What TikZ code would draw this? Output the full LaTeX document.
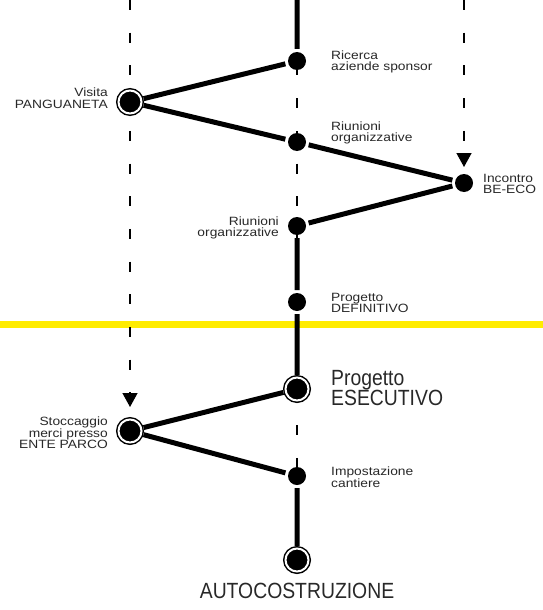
\documentclass[tikz,border=0pt]{standalone}
\usepackage{fontspec}
\setmainfont{Liberation Sans}
\newfontfamily\notafont{Liberation Sans}[FakeStretch=1.15]
\newfontfamily\titolofont{Liberation Sans}[FakeStretch=0.88]
\usepackage{tikz}
\usetikzlibrary{positioning,arrows.meta,backgrounds}
\definecolor{giallo}{RGB}{255,236,0}
\definecolor{testo}{RGB}{40,40,40}

\begin{document}
\begin{tikzpicture}[x=1pt, y=-1pt,
    tappa/.style={circle, fill=black, minimum size=18pt, inner sep=0pt, outer sep=3pt},
    tappabig/.style={circle, fill=black, draw=black, double=white, double distance=2pt,
        line width=1.5pt, minimum size=23pt, inner sep=0pt, outer sep=2.5pt},
    nota/.style={inner sep=0pt, text=testo, font=\notafont\fontsize{12}{11.7}\selectfont},
    notabig/.style={inner sep=0pt, text=testo, align=left, font=\titolofont\fontsize{22}{19}\selectfont},
    percorso/.style={line width=5pt},
    guida/.style={line width=1.4pt, dash pattern=on 10pt off 22.7pt},
    freccia/.style={-{Triangle[width=15pt,length=14pt]}}]
                \useasboundingbox (0,0) rectangle (543,610);
                \coordinate (topL) at (130,0);
                \coordinate (topC) at (297,0);
                \coordinate (topR) at (464,0);

                \node[tappa] (ric) at (297,61) {};
                \node[tappabig] (vis) at (130,102) {};
                \node[tappa] (riu1) at (297,142) {};
                \node[tappa] (inc) at (464,183) {};
                \node[tappa] (riu2) at (297,226) {};
                \node[tappa] (def) at (297,302) {};
                \node[tappabig] (ese) at (297,389) {};
                \node[tappabig] (sto) at (130,431) {};
                \node[tappa] (imp) at (297,476) {};
                \node[tappabig] (auto) at (297,560) {};

                \node[nota, align=left, right=22pt of ric, yshift=-1pt] (ricT) {Ricerca\\aziende sponsor};
                \node[nota, align=right, left=8pt of vis, yshift=4pt] (visT) {Visita\\PANGUANETA};
                \node[nota, align=left, right=22pt of riu1, yshift=9pt] (riu1T) {Riunioni\\organizzative};
                \node[nota, align=left, right=7pt of inc, yshift=-1pt] (incT) {Incontro\\BE-ECO};
                \node[nota, align=right, left=6pt of riu2, yshift=-2pt] (riu2T) {Riunioni\\organizzative};
                \node[nota, align=left, right=22pt of def, yshift=-1pt] (defT) {Progetto\\DEFINITIVO};
                \node[notabig, right=20pt of ese, yshift=1pt] (eseT) {Progetto\\ESECUTIVO};
                \node[nota, align=right, left=8pt of sto, yshift=-2pt] (stoT) {Stoccaggio\\merci presso\\ENTE PARCO};
                \node[nota, align=left, right=22pt of imp, yshift=-1pt] (impT) {Impostazione\\cantiere};
                \node[notabig, below=9pt of auto] (autoT) {AUTOCOSTRUZIONE};

                \begin{scope}[on background layer]
                \draw[giallo, line width=7.5pt] (0,324.5) -- (543,324.5);
                \draw[guida, freccia, shorten >=10pt] (topL) -- (sto);
                \draw[guida, freccia, shorten >=4pt] (topR) -- (inc);
                \draw[guida] (topC) -- (auto);
                \draw[percorso]
                (topC) -- (ric) -- (vis) -- (riu1) -- (inc) -- (riu2) -- (def)
                -- (ese) -- (sto) -- (imp) -- (auto);
                \end{scope}
            \end{tikzpicture}
\end{document}
